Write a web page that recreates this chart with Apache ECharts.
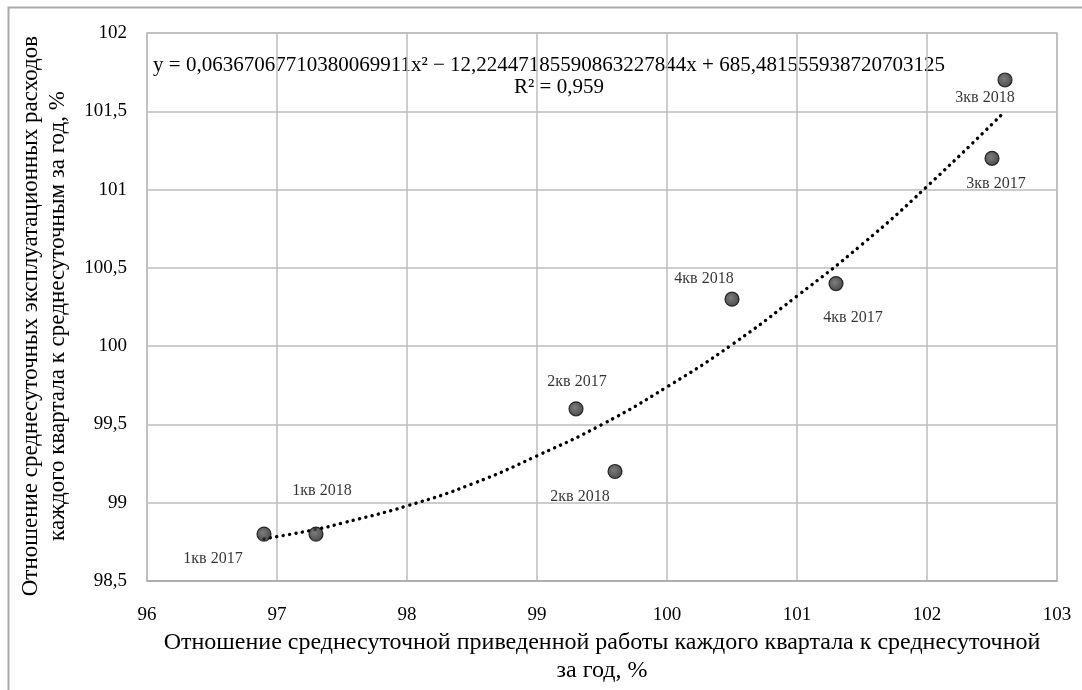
<!DOCTYPE html>
<html>
<head>
<meta charset="utf-8">
<script src="https://cdn.jsdelivr.net/npm/echarts@6/dist/echarts.min.js"></script>
<style>html,body{margin:0;padding:0;background:#fff}#c{width:1082px;height:690px}</style>
</head>
<body>
<div id="c"></div>
<script>
// ---- data ----
const pointNames = ['1кв 2017','1кв 2018','2кв 2017','2кв 2018','4кв 2018','4кв 2017','3кв 2017','3кв 2018'];
const workX      = [96.9, 97.3, 99.3, 99.6, 100.5, 101.3, 102.5, 102.6];
const costY      = [98.8, 98.8, 99.6, 99.2, 100.3, 100.4, 101.2, 101.7];
// trendline
const trendX = [96.9, 97.3, 97.5, 98, 98.5, 99, 99.5, 100, 100.5, 101, 101.5, 102, 102.6];
const trendY = [98.77, 98.83, 98.87, 98.98, 99.12, 99.30, 99.50, 99.74, 100.01, 100.32, 100.65, 101.02, 101.50];
const xTicks = [96, 97, 98, 99, 100, 101, 102, 103];
const yTicks = [98.5, 99, 99.5, 100, 100.5, 101, 101.5, 102];
const equationText = 'y = 0,06367067710380069911x² − 12,22447185590863227844x + 685,481555938720703125';
const r2Text = 'R² = 0,959';
const xTitle = 'Отношение среднесуточной приведенной работы каждого квартала к среднесуточной\nза год, %';
const yTitle = 'Отношение среднесуточных эксплуатационных расходов\nкаждого квартала к среднесуточным за год, %';

// label placement (pixel offsets from the marker)
const labelOffsets = {
  '1кв 2017': [-51, 25], '1кв 2018': [6, -43], '2кв 2017': [1, -27], '2кв 2018': [-35, 25],
  '4кв 2018': [-28, -20], '4кв 2017': [17, 34], '3кв 2017': [4, 26], '3кв 2018': [-20, 18]
};

const FONT = '"Liberation Serif","Times New Roman",serif';
const fmt = v => String(v).replace('.', ',');

const chart = echarts.init(document.getElementById('c'), null, {renderer: 'canvas'});
chart.setOption({
  backgroundColor: '#fff',
  animation: false,
  textStyle: {fontFamily: FONT, color: '#000'},
  grid: {left: 147, top: 33, right: 25, bottom: 102, show: true, borderColor: '#bdbdbd', borderWidth: 1.5},
  xAxis: {
    type: 'value', min: xTicks[0], max: xTicks[xTicks.length - 1], interval: 1,
    axisLine: {show: true, lineStyle: {color: '#a8a8a8', width: 1.5}},
    axisTick: {show: false},
    splitLine: {show: true, lineStyle: {color: '#bdbdbd', width: 1.5}},
    axisLabel: {fontFamily: FONT, fontSize: 19, color: '#000', margin: 24, formatter: fmt},
    name: xTitle, nameLocation: 'middle', nameGap: 46,
    nameTextStyle: {fontFamily: FONT, fontSize: 24, color: '#000', lineHeight: 28}
  },
  yAxis: {
    type: 'value', min: yTicks[0], max: yTicks[yTicks.length - 1], interval: 0.5,
    axisLine: {show: false},
    axisTick: {show: false},
    splitLine: {show: true, lineStyle: {color: '#bdbdbd', width: 1.5}},
    axisLabel: {fontFamily: FONT, fontSize: 19, color: '#000', margin: 20, formatter: fmt},
    name: yTitle, nameLocation: 'middle', nameGap: 76,
    nameTextStyle: {fontFamily: FONT, fontSize: 23, color: '#000', lineHeight: 27, padding: [0, 18, 0, 0]}
  },
  series: [
    {
      type: 'line', name: 'trend', smooth: true, symbol: 'none', silent: true,
      data: trendX.map((x, i) => [x, trendY[i]]),
      lineStyle: {color: '#000', width: 3.4, type: [0.1, 6.4], cap: 'round'},
      z: 2
    },
    {
      type: 'scatter', name: 'points', symbolSize: 14,
      data: workX.map((x, i) => ({
        name: pointNames[i], value: [x, costY[i]],
        label: {offset: labelOffsets[pointNames[i]]}
      })),
      itemStyle: {
        color: {type: 'radial', x: 0.42, y: 0.42, r: 0.6, colorStops: [
          {offset: 0, color: '#5c5c5c'}, {offset: 1, color: '#1c1c1c'}]},
        borderColor: '#0a0a0a', borderWidth: 1.2
      },
      label: {
        show: true, position: 'inside', formatter: p => p.name,
        fontFamily: FONT, fontSize: 16, color: '#000'
      },
      z: 3
    }
  ],
  graphic: [
    {type: 'rect', left: 6, top: 5, shape: {width: 1090, height: 700}, silent: true,
     style: {fill: 'none', stroke: '#a9a9a9', lineWidth: 2}, z: 0},
    {type: 'text', x: 549, y: 65, silent: true,
     style: {text: equationText, font: '21px ' + FONT, fill: '#000', textAlign: 'center', textVerticalAlign: 'middle'}},
    {type: 'text', x: 559, y: 87, silent: true,
     style: {text: r2Text, font: '21px ' + FONT, fill: '#000', textAlign: 'center', textVerticalAlign: 'middle'}}
  ]
});
</script>
</body>
</html>
